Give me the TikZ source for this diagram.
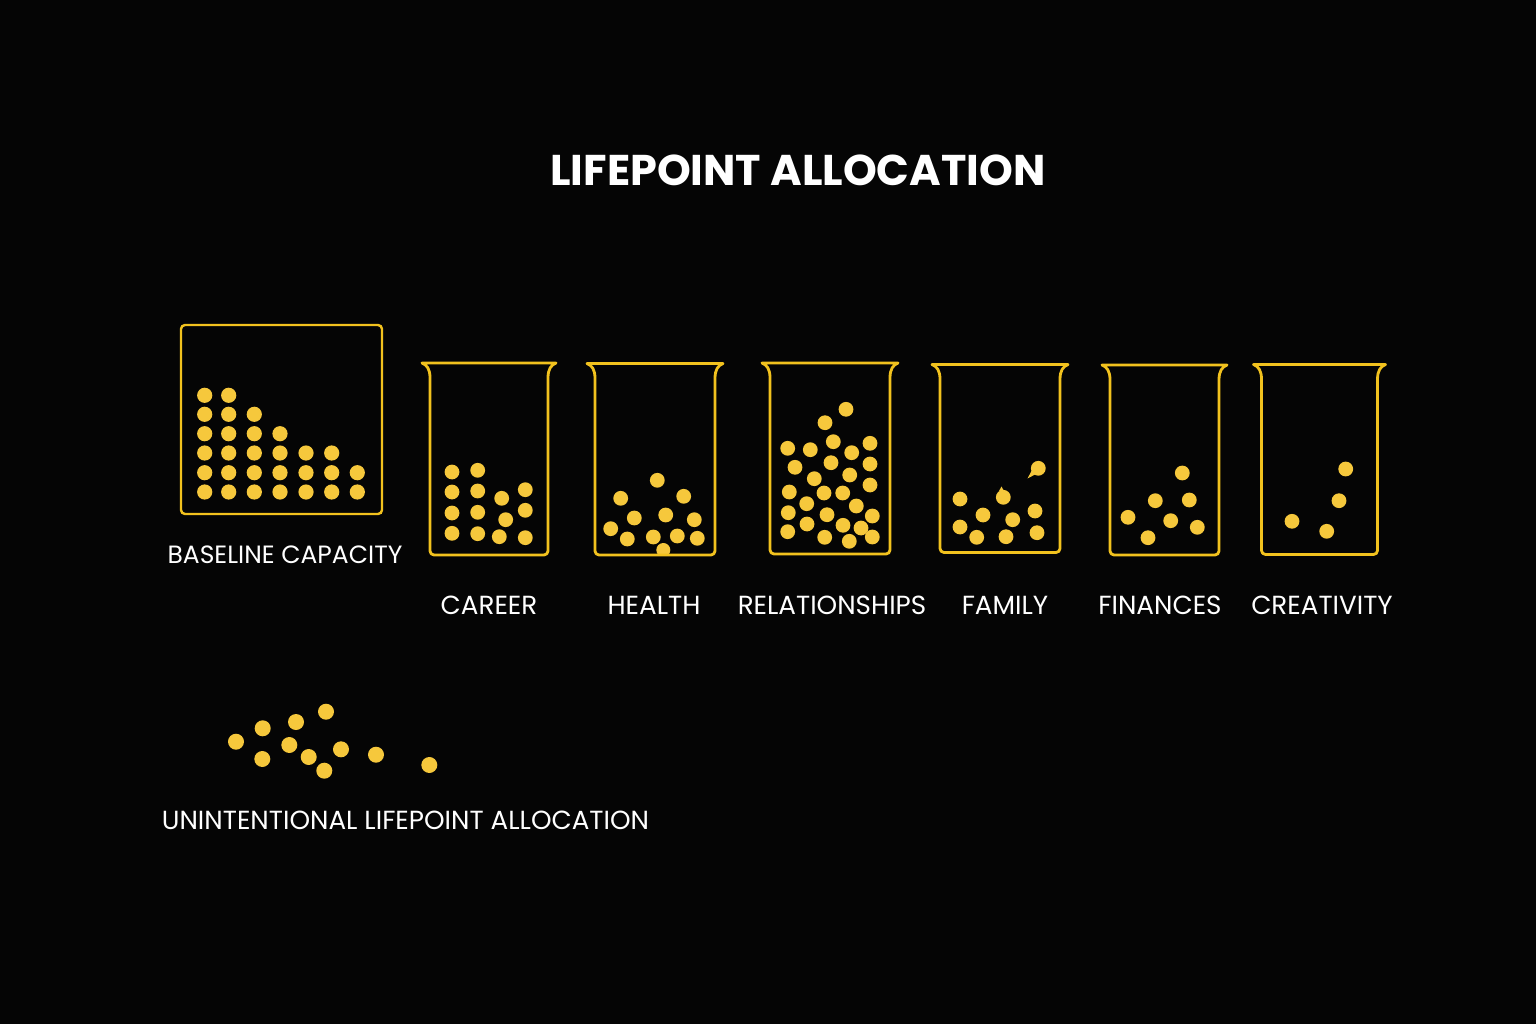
\documentclass[tikz,border=0pt]{standalone}
\usepackage{fontspec}
\setmainfont{Poppins}
\definecolor{bgc}{HTML}{050505}
\definecolor{dotc}{HTML}{F6C83C}
\definecolor{linec}{HTML}{F2C21E}
\tikzset{
  beakerline/.style={draw=linec, line width=2.8pt, line join=round, line cap=round},
  dot/.style={fill=dotc},
  lbl/.style={text=white, font=\fontsize{26.2}{28}\selectfont, inner sep=0pt},
}
\newcommand{\mybeaker}[4]{% cx, top, halfwidth, bottom
  \draw[beakerline] ({#1-#3},{#2+15}) .. controls ({#1-#3},{#2+6}) and ({#1-#3-3},{#2+2}) .. ({#1-#3-8},{#2})
    -- ({#1+#3+8},{#2}) .. controls ({#1+#3+3},{#2+2}) and ({#1+#3},{#2+6}) .. ({#1+#3},{#2+15})
    [rounded corners=4pt] -- ({#1+#3},{#4}) -- ({#1-#3},{#4}) -- ({#1-#3},{#2+15});
}
\newcommand{\mydotset}[1]{\foreach \px/\py in {#1} {\fill[dot] (\px,\py) circle (7.4pt);}}
\begin{document}
\begin{tikzpicture}[x=1pt,y=-1pt]
\fill[bgc] (0,0) rectangle (1536,1024);
\useasboundingbox (0,0) rectangle (1536,1024);

\node[text=white, font=\fontsize{43}{46}\selectfont\bfseries, inner sep=0pt] (title) at (798,170) {LIFEPOINT ALLOCATION};

% Baseline capacity
\draw[draw=linec, line width=2.4pt, rounded corners=4pt] (181,325) rectangle (382,514);
\foreach \cx/\top in {204.7/395.3, 228.7/395.3, 254.3/414.3, 280/433.7, 306/453, 331.7/453, 357.3/472.7} {
  \foreach \ry in {395.3,414.3,433.7,453,472.7,492} {
    \ifdim \ry pt<\top pt\relax\else \fill[dot] (\cx,\ry) circle (7.6pt);\fi
  }
}
\node[lbl, font=\fontsize{25}{27}\selectfont] (baseline) at (285,555) {BASELINE CAPACITY};

% Career
\mybeaker{489}{363}{59}{555}
\mydotset{452/472, 477.7/470.3, 452/492, 477.7/491, 501.7/498.3, 525.3/489.7, 452/513, 477.7/512.3, 505.7/519.7, 525.3/510.3, 452/533.3, 477.7/533.7, 499.3/536.7, 525.3/537.7}
\node[lbl] (career) at (489,605) {CAREER};

% Health
\begin{scope}
  \clip (600,540) rectangle (710,553.5);
  \fill[dot] (663.3,550) circle (7pt);
\end{scope}
\mybeaker{655}{363.5}{60}{555}
\mydotset{657.3/480.3, 620.7/498.3, 683.7/496.3, 634.3/518, 665.7/515, 694.3/519.7, 610.7/528.7, 627.3/539, 653.3/537, 677.3/536, 697.3/538.3}
\node[lbl] (health) at (654,605) {HEALTH};

% Relationships
\mybeaker{830}{363}{60}{554}
\mydotset{846/409.3, 825/422.7, 833.3/441.7, 787.7/448.3, 810.3/449.7, 851.7/452.7, 870/443.3, 795/467.3, 831/462.7, 870/464, 814.3/478.7, 849.7/475, 789.3/492, 824/493, 842.7/493, 870/485, 806.7/503.7, 856.3/506, 788.3/512.7, 827/514.7, 872.3/516, 807/524, 843/525.3, 861/528, 787.7/531.7, 824.7/537.3, 849.3/541.3, 872.3/537}
\node[lbl] (relationships) at (832,605) {RELATIONSHIPS};

% Family
\mybeaker{1000}{364.5}{60}{552.5}
\mydotset{960/499, 1003.3/497.3, 1038.3/468.3, 983/515, 1012.7/519.7, 1035/511, 960/527, 976.7/537.3, 1006/536.7, 1037/532.7}
\fill[dot] (1032,470) -- (1027.5,478.5) -- (1036,474) -- cycle;
\fill[dot] (999,491) -- (1001.5,486.5) -- (1004.5,492) -- cycle;
\node[lbl] (family) at (1005,605) {FAMILY};

% Finances
\mybeaker{1164.5}{365}{54.5}{555}
\mydotset{1182.3/473, 1155.3/500.7, 1189.3/500, 1128/517.3, 1170.7/520.7, 1197.3/527.3, 1148/537.7}
\node[lbl] (finances) at (1160,605) {FINANCES};

% Creativity
\mybeaker{1319.5}{364.5}{58}{554.5}
\mydotset{1345.7/469, 1339/500.7, 1292/521.3, 1326.7/531.3}
\node[lbl] (creativity) at (1322,605) {CREATIVITY};

% Unintentional
\foreach \px/\py in {236/741.7, 262.7/728.3, 296/722, 326/711.7, 289.3/745, 262.3/759, 308.7/757, 341/749.3, 324.3/770.7, 376/754.7, 429.3/765} {
  \fill[dot] (\px,\py) circle (8pt);
}
\node[lbl] (unint) at (405.5,820) {UNINTENTIONAL LIFEPOINT ALLOCATION};
\end{tikzpicture}
\end{document}
